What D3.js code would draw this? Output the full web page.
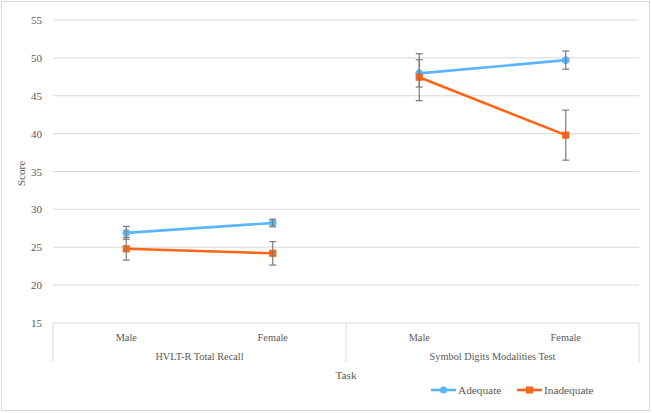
<!DOCTYPE html>
<html><head><meta charset="utf-8">
<script src="https://cdn.jsdelivr.net/npm/d3@7"></script>
<style>body{margin:0;background:#fff}</style>
</head><body><svg id="c" width="652" height="413"></svg>
<script>
const groups = ["HVLT-R Total Recall", "Symbol Digits Modalities Test"];
const sexes = ["Male", "Female"];
const yTicks = [15, 20, 25, 30, 35, 40, 45, 50, 55];
const adequate = [26.9, 28.2, 47.95, 49.7];
const adequateErr = [0.85, 0.5, 1.8, 1.2];
const inadequate = [24.8, 24.2, 47.45, 39.8];
const inadequateErr = [1.5, 1.55, 3.1, 3.3];
const seriesNames = ["Adequate", "Inadequate"];
const colors = ["#5BB5F8", "#FF6418"];
const FONT = "'Liberation Serif', 'Times New Roman', serif";
const TXT = "#595959";

const svg = d3.select("#c");
svg.append("rect").attr("x", 1.5).attr("y", 1.5).attr("width", 648).attr("height", 409)
  .attr("fill", "#fff").attr("stroke", "#d9d9d9");

const L = 53, R = 639, T = 20, B = 323;
const cats = [];
groups.forEach(g => sexes.forEach(s => cats.push(g + "|" + s)));
const x = d3.scaleBand().domain(cats).range([L, R]);
const y = d3.scaleLinear().domain([15, 55]).range([B, T]);

svg.append("g").selectAll("line").data(yTicks.filter(t => t > 15)).join("line")
  .attr("x1", L).attr("x2", R).attr("y1", d => y(d)).attr("y2", d => y(d))
  .attr("stroke", "#d9d9d9").attr("stroke-width", 1);

const yAxis = d3.axisLeft(y).tickValues(yTicks).tickSize(0).tickPadding(11);
const yg = svg.append("g").attr("transform", `translate(${L},0)`).call(yAxis);
yg.select(".domain").remove();
yg.selectAll("text").attr("fill", TXT).style("font-family", FONT).style("font-size", "11px");

svg.append("line").attr("x1", L).attr("x2", R).attr("y1", B).attr("y2", B).attr("stroke", "#d9d9d9");
const gx = d3.scaleBand().domain(groups).range([L, R]);
const dividers = [L, ...groups.map(g => gx(g) + gx.bandwidth())];
svg.append("g").selectAll("line").data(dividers).join("line")
  .attr("x1", d => d).attr("x2", d => d).attr("y1", B).attr("y2", 362)
  .attr("stroke", "#d9d9d9");

const xAxis = d3.axisBottom(x).tickSize(0).tickPadding(11).tickFormat(d => d.split("|")[1]);
const xg = svg.append("g").attr("transform", `translate(0,${B})`).call(xAxis);
xg.select(".domain").remove();
xg.selectAll("text").attr("fill", TXT).style("font-family", FONT).style("font-size", "10.3px");

svg.append("g").selectAll("text").data(groups).join("text")
  .attr("x", d => gx(d) + gx.bandwidth() / 2).attr("y", 360)
  .attr("text-anchor", "middle").style("font-family", FONT).style("font-size", "10.3px").attr("fill", TXT).text(d => d);

svg.append("text").attr("x", (L + R) / 2).attr("y", 379).attr("text-anchor", "middle")
  .style("font-family", FONT).style("font-size", "11.3px").attr("fill", TXT).text("Task");
svg.append("text").attr("transform", `translate(25,${(T + B) / 2 + 2}) rotate(-90)`)
  .attr("text-anchor", "middle").style("font-family", FONT).style("font-size", "11.3px").attr("fill", TXT).text("Score");

const cx = c => x(c) + x.bandwidth() / 2;
const series = [
  {name: seriesNames[0], vals: adequate, err: adequateErr, color: colors[0], shape: "circle"},
  {name: seriesNames[1], vals: inadequate, err: inadequateErr, color: colors[1], shape: "square"}
];
const line = d3.line().x(d => d.x).y(d => d.y);

series.forEach(s => {
  groups.forEach((g, gi) => {
    const pts = sexes.map((sx, si) => ({x: cx(g + "|" + sx), y: y(s.vals[gi * 2 + si])}));
    svg.append("path").attr("d", line(pts)).attr("fill", "none")
      .attr("stroke", s.color).attr("stroke-width", 2.6).attr("stroke-linecap", "round");
  });
});

series.forEach(s => {
  cats.forEach((c, i) => {
    const v = s.vals[i];
    const X = cx(c);
    if (s.shape === "circle") {
      svg.append("circle").attr("cx", X).attr("cy", y(v)).attr("r", 3.8).attr("fill", s.color);
    } else {
      svg.append("rect").attr("x", X - 3.6).attr("y", y(v) - 3.6).attr("width", 7.2).attr("height", 7.2).attr("fill", s.color);
    }
  });
});

series.forEach(s => {
  cats.forEach((c, i) => {
    const v = s.vals[i], e = s.err[i];
    const X = cx(c);
    const g = svg.append("g").attr("stroke", "#7a7a7a").attr("stroke-width", 1.2);
    g.append("line").attr("x1", X).attr("x2", X).attr("y1", y(v + e)).attr("y2", y(v - e));
    [v + e, v - e].forEach(t => g.append("line").attr("x1", X - 3.5).attr("x2", X + 3.5).attr("y1", y(t)).attr("y2", y(t)));
  });
});

const lg = svg.append("g");
const legX = [431, 517];
series.forEach((s, i) => {
  const lx = legX[i], ly = 390;
  lg.append("line").attr("x1", lx).attr("x2", lx + 25).attr("y1", ly).attr("y2", ly)
    .attr("stroke", s.color).attr("stroke-width", 2.6);
  if (s.shape === "circle") lg.append("circle").attr("cx", lx + 12.5).attr("cy", ly).attr("r", 3.5).attr("fill", s.color);
  else lg.append("rect").attr("x", lx + 9).attr("y", ly - 3.5).attr("width", 7).attr("height", 7).attr("fill", s.color);
  lg.append("text").attr("x", lx + 27).attr("y", ly + 4).style("font-family", FONT).style("font-size", "11.3px").attr("fill", TXT).text(s.name);
});
</script></body></html>
